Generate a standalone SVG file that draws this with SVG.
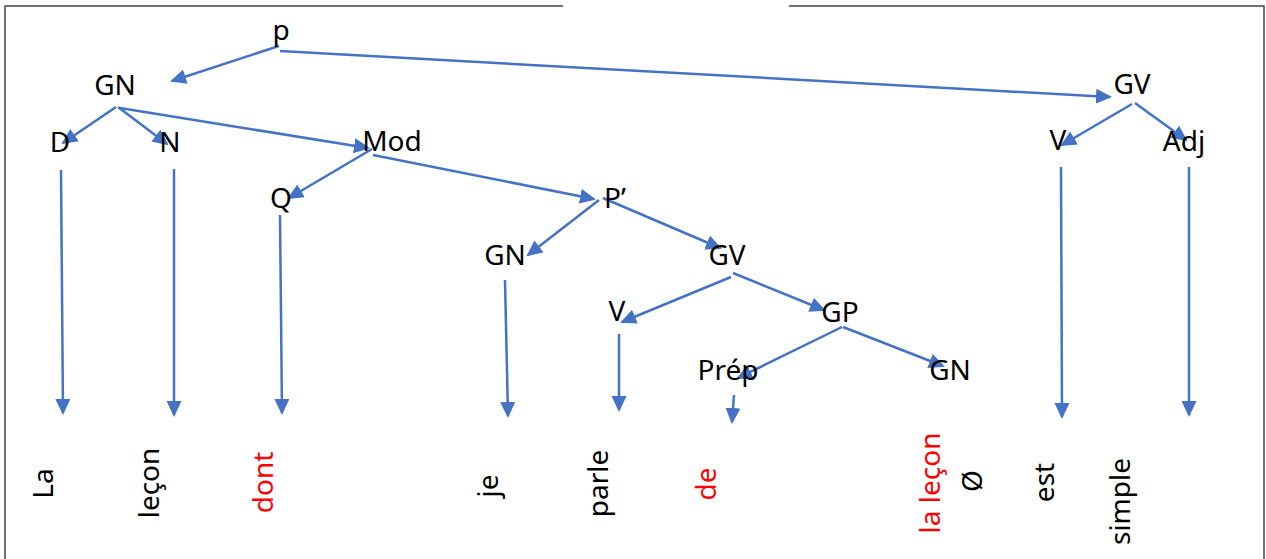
<svg xmlns="http://www.w3.org/2000/svg" width="1266" height="559" viewBox="0 0 1266 559">
<style>
.t{font-family:"Noto Sans","Open Sans","DejaVu Sans",sans-serif;font-size:28px;fill:#000;text-anchor:middle}
.r{fill:#FF0000}
.e{stroke:#4472C4;stroke-width:2.5;fill:none;marker-end:url(#ah)}
.f{stroke:#444;stroke-width:1.5;fill:none}
</style>
<defs>
<marker id="ah" markerUnits="userSpaceOnUse" markerWidth="16" markerHeight="15" refX="14" refY="7.5" orient="auto">
<path d="M0,0 L16,7.5 L0,15 Z" fill="#4472C4"/>
</marker>
</defs>
<rect width="1266" height="559" fill="#fff"/>
<g id="frame">
<path class="f" d="M5,559 V6 H563 M789,6 H1264 V559"/>
</g>
<g id="connectors">
<line class="e" x1="279" y1="46" x2="172" y2="81"/>
<line class="e" x1="280" y1="51" x2="1110" y2="97"/>
<line class="e" x1="116" y1="107" x2="63" y2="143"/>
<line class="e" x1="118" y1="107" x2="167" y2="144"/>
<line class="e" x1="120" y1="108" x2="368" y2="148"/>
<line class="e" x1="372" y1="149" x2="289" y2="198"/>
<line class="e" x1="373" y1="155" x2="594" y2="199"/>
<line class="e" x1="599" y1="200" x2="528" y2="255"/>
<line class="e" x1="603" y1="198" x2="720" y2="248"/>
<line class="e" x1="731" y1="277" x2="622" y2="322"/>
<line class="e" x1="733" y1="273" x2="824" y2="310"/>
<line class="e" x1="842" y1="327" x2="738" y2="378"/>
<line class="e" x1="843" y1="327" x2="943" y2="366"/>
<line class="e" x1="1132" y1="104" x2="1062" y2="145"/>
<line class="e" x1="1135" y1="103" x2="1186" y2="140"/>
<line class="e" x1="61" y1="170" x2="63" y2="413"/>
<line class="e" x1="174" y1="169" x2="174" y2="415"/>
<line class="e" x1="280" y1="215" x2="282" y2="413"/>
<line class="e" x1="505" y1="280" x2="508" y2="416"/>
<line class="e" x1="619" y1="334" x2="619" y2="410"/>
<line class="e" x1="734" y1="395" x2="732" y2="422"/>
<line class="e" x1="1061" y1="167" x2="1062" y2="417"/>
<line class="e" x1="1189" y1="167" x2="1189" y2="415"/>
</g>
<g id="n-p"><text class="t" x="281" y="40">p</text></g>
<g id="n-gn1"><text class="t" x="115" y="95">GN</text></g>
<g id="n-gv1"><text class="t" x="1132" y="94">GV</text></g>
<g id="n-d"><text class="t" x="60" y="152">D</text></g>
<g id="n-n"><text class="t" x="170" y="152">N</text></g>
<g id="n-mod"><text class="t" x="392" y="151">Mod</text></g>
<g id="n-v1"><text class="t" x="1058" y="150">V</text></g>
<g id="n-adj"><text class="t" x="1184" y="151">Adj</text></g>
<g id="n-q"><text class="t" x="281" y="208">Q</text></g>
<g id="n-pp"><text class="t" x="615" y="208">P’</text></g>
<g id="n-gn2"><text class="t" x="505" y="265">GN</text></g>
<g id="n-gv2"><text class="t" x="727" y="265">GV</text></g>
<g id="n-v2"><text class="t" x="617" y="321">V</text></g>
<g id="n-gp"><text class="t" x="840" y="322">GP</text></g>
<g id="n-prep"><text class="t" x="728" y="380">Prép</text></g>
<g id="n-gn3"><text class="t" x="950" y="380">GN</text></g>
<g id="w-la"><text class="t" transform="translate(53,483.5) rotate(-90)">La</text></g>
<g id="w-lecon"><text class="t" transform="translate(159,483) rotate(-90)">leçon</text></g>
<g id="w-dont"><text class="t r" transform="translate(273,482.5) rotate(-90)">dont</text></g>
<g id="w-je"><text class="t" transform="translate(498,486) rotate(-90)">je</text></g>
<g id="w-parle"><text class="t" transform="translate(608,483.5) rotate(-90)">parle</text></g>
<g id="w-de"><text class="t r" transform="translate(716,484) rotate(-90)">de</text></g>
<g id="w-lalecon"><text class="t r" transform="translate(940,483) rotate(-90)">la leçon</text></g>
<g id="w-zero"><text class="t" transform="translate(982,481) rotate(-90)">Ø</text></g>
<g id="w-est"><text class="t" transform="translate(1054,482.5) rotate(-90)">est</text></g>
<g id="w-simple"><text class="t" transform="translate(1130,501.5) rotate(-90)">simple</text></g>
</svg>
